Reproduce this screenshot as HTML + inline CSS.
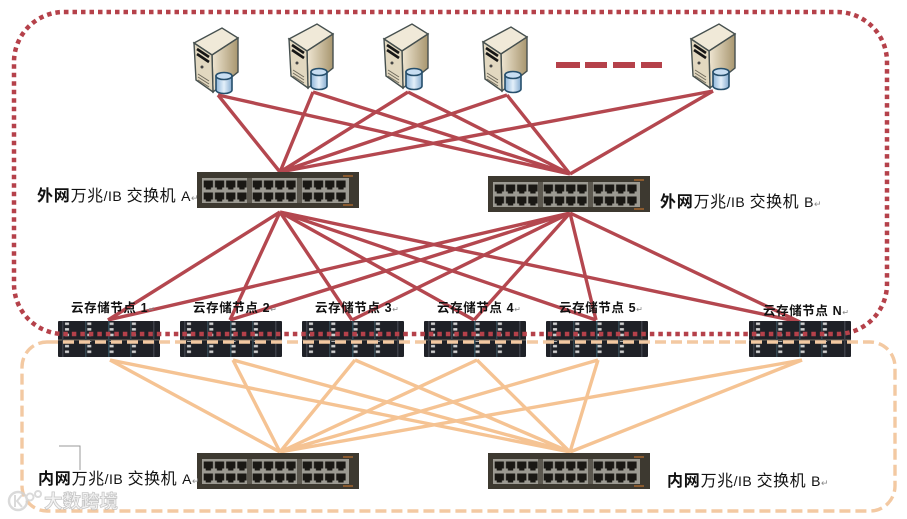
<!DOCTYPE html>
<html><head><meta charset="utf-8"><style>
html,body{margin:0;padding:0;background:#fff}
svg{display:block}
text{font-family:"Liberation Sans","Noto Sans CJK SC",sans-serif;fill:#111}
.big{font-size:16px;letter-spacing:.5px}
.big .b{font-weight:700;letter-spacing:.8px}
.big .s{font-size:14px}
.big .r{font-size:9px;fill:#888}
.n{font-size:12.5px;font-weight:700;letter-spacing:.6px}
.n .r{font-size:8px;fill:#888;font-weight:400}
</style></head><body>
<svg width="907" height="519" viewBox="0 0 907 519" xmlns="http://www.w3.org/2000/svg">
<defs>
<linearGradient id="fr" x1="0" x2="1" y1="0" y2="0"><stop offset="0" stop-color="#efe6d2"/><stop offset="1" stop-color="#a8966f"/></linearGradient>
<linearGradient id="cy" x1="0" x2="1" y1="0" y2="0"><stop offset="0" stop-color="#8fb6da"/><stop offset=".5" stop-color="#e4f0fa"/><stop offset="1" stop-color="#86acd0"/></linearGradient>
<pattern id="ports" x="0" y="0" width="11.2" height="12" patternUnits="userSpaceOnUse">
<path d="M.7 0.500H10V7.500H8V9.500H2.700V7.500H.7Z" fill="#1a1814"/>
</pattern>
<g id="sw">
<rect width="162" height="36" fill="#3d3930"/>
<rect x="5" y="6" width="147" height="25" fill="#9c9a92"/>
<rect x="50" y="6" width="5" height="25" fill="#5c584f"/>
<rect x="100" y="6" width="5" height="25" fill="#5c584f"/>
<g transform="translate(6,8)"><rect width="44.8" height="22" fill="url(#ports)"/></g>
<g transform="translate(55,8)"><rect width="44.8" height="22" fill="url(#ports)"/></g>
<g transform="translate(105,8)"><rect width="44.8" height="22" fill="url(#ports)"/></g>
<rect x="146" y="3" width="10" height="2" fill="#8a5a2e"/>
<rect x="146" y="32" width="10" height="2" fill="#8a5a2e"/>
</g>
<pattern id="led" x="0" y="0" width="22.3" height="5.6" patternUnits="userSpaceOnUse">
<rect x="7" y="1.500" width="4" height="2.500" fill="#cfcfcf"/>
</pattern>
<g id="st">
<rect width="102" height="36" fill="#1f2127" rx="1"/>
<rect y="18" width="102" height="2" fill="#4a4744"/>
<rect x="4" y="0" width="1.500" height="36" fill="#3d4048"/>
<rect x="27" y="0" width="1.500" height="36" fill="#33454f"/>
<rect x="50" y="0" width="1.500" height="36" fill="#2f4a57"/>
<rect x="72" y="0" width="1.500" height="36" fill="#33454f"/>
<rect x="95" y="0" width="1.500" height="36" fill="#3d4048"/>
<rect x="2" y="1" width="90" height="17" fill="url(#led)"/>
<rect x="2" y="20" width="90" height="15" fill="url(#led)"/>
</g>
<g id="sv">
<path d="M0 15 28 0 44 10 18 27Z" fill="#f0e9d8" stroke="#46504f" stroke-width="1.400"/>
<path d="M18 27 44 10V44L19 64Z" fill="url(#fr)" stroke="#46504f" stroke-width="1.400"/>
<path d="M0 15 18 27 19 64 2 52Z" fill="#e2d8c0" stroke="#46504f" stroke-width="1.400"/>
<path d="M3 21 15 29M3 26 15 34" stroke="#161616" stroke-width="2.600"/>
<circle cx="8" cy="39" r="1.500" fill="#444"/>
<path d="M4 46 15 53M4 49 15 56M4 52 15 59" stroke="#6f6a5c" stroke-width="1"/>
<path d="M22 48V62A8 3.500 0 0 0 38 62V48Z" fill="url(#cy)" stroke="#264f6c" stroke-width="1.600"/>
<ellipse cx="30" cy="48" rx="8" ry="3.500" fill="#c8def2" stroke="#264f6c" stroke-width="1.600"/>
</g>
</defs>
<rect width="907" height="519" fill="#fff"/>

<use href="#sv" x="194" y="28"/>
<use href="#sv" x="289" y="24"/>
<use href="#sv" x="384" y="24"/>
<use href="#sv" x="483" y="27"/>
<use href="#sv" x="691" y="24"/>

<g fill="#b5414a">
<rect x="556" y="62" width="24" height="6"/><rect x="585" y="62" width="22" height="6"/><rect x="613" y="62" width="22" height="6"/><rect x="641" y="62" width="21" height="6"/>
</g>

<g stroke="#b4474f" stroke-width="3.400" fill="none">
<path d="M218 95 280 172M313 92 280 172M408 92 280 172M507 95 280 172M713 91 280 172"/>
<path d="M218 95 570 174M313 92 570 174M408 92 570 174M507 95 570 174M713 91 570 174"/>
<path d="M280 212 108 320M280 212 230 320M280 212 352 320M280 212 474 320M280 212 596 320M280 212 800 322"/>
<path d="M570 213 108 320M570 213 230 320M570 213 352 320M570 213 474 320M570 213 596 320M570 213 800 322"/>
</g>
<g stroke="#f5c393" stroke-width="3.400" fill="none">
<path d="M110 360 280 452M233 360 280 452M355 360 280 452M477 360 280 452M598 360 280 452M802 360 280 452"/>
<path d="M110 360 570 452M233 360 570 452M355 360 570 452M477 360 570 452M598 360 570 452M802 360 570 452"/>
</g>

<use href="#sw" x="197" y="172"/>
<use href="#sw" x="488" y="176"/>
<use href="#sw" x="197" y="453"/>
<use href="#sw" x="488" y="453"/>

<use href="#st" x="58" y="321"/>
<use href="#st" x="180" y="321"/>
<use href="#st" x="302" y="321"/>
<use href="#st" x="424" y="321"/>
<use href="#st" x="546" y="321"/>
<use href="#st" x="749" y="321"/>

<rect x="14" y="12" width="873" height="322" rx="50" fill="none" stroke="#b5414a" stroke-width="4.500" stroke-dasharray="4.500 4"/>
<rect x="22" y="342" width="873" height="169" rx="25" fill="none" stroke="#f3c9a2" stroke-width="3.400" stroke-dasharray="11 5"/>

<path d="M59 446H80V470" fill="none" stroke="#999" stroke-width="1"/>

<text class="big" x="37" y="201"><tspan class="b">外网</tspan>万兆<tspan class="s">/IB </tspan>交换机 <tspan class="s">A</tspan><tspan class="r">↵</tspan></text>
<text class="big" x="660" y="207"><tspan class="b">外网</tspan>万兆<tspan class="s">/IB </tspan>交换机 <tspan class="s">B</tspan><tspan class="r">↵</tspan></text>
<text class="big" x="38" y="484"><tspan class="b">内网</tspan>万兆<tspan class="s">/IB </tspan>交换机 <tspan class="s">A</tspan><tspan class="r">↵</tspan></text>
<text class="big" x="667" y="486"><tspan class="b">内网</tspan>万兆<tspan class="s">/IB </tspan>交换机 <tspan class="s">B</tspan><tspan class="r">↵</tspan></text>

<text class="n" x="71" y="312">云存储节点 1<tspan class="r">↵</tspan></text>
<text class="n" x="193" y="312">云存储节点 2<tspan class="r">↵</tspan></text>
<text class="n" x="315" y="312">云存储节点 3<tspan class="r">↵</tspan></text>
<text class="n" x="437" y="312">云存储节点 4<tspan class="r">↵</tspan></text>
<text class="n" x="559" y="312">云存储节点 5<tspan class="r">↵</tspan></text>
<text class="n" x="763" y="315">云存储节点 N<tspan class="r">↵</tspan></text>

<g opacity=".85">
<circle cx="18" cy="501" r="9" fill="none" stroke="#d4d4d4" stroke-width="2.500"/>
<path d="M15 495V507M22 495 17 501 22 507" fill="none" stroke="#d4d4d4" stroke-width="2"/>
<circle cx="30" cy="497" r="3.500" fill="none" stroke="#d4d4d4" stroke-width="2"/>
<circle cx="38" cy="494" r="3" fill="none" stroke="#d4d4d4" stroke-width="2"/>
<text x="44" y="508" font-size="18.500" style="fill:#f2f2f2;stroke:#bdbdbd;stroke-width:.8px;font-weight:700">大数跨境</text>
</g>
</svg>
</body></html>
